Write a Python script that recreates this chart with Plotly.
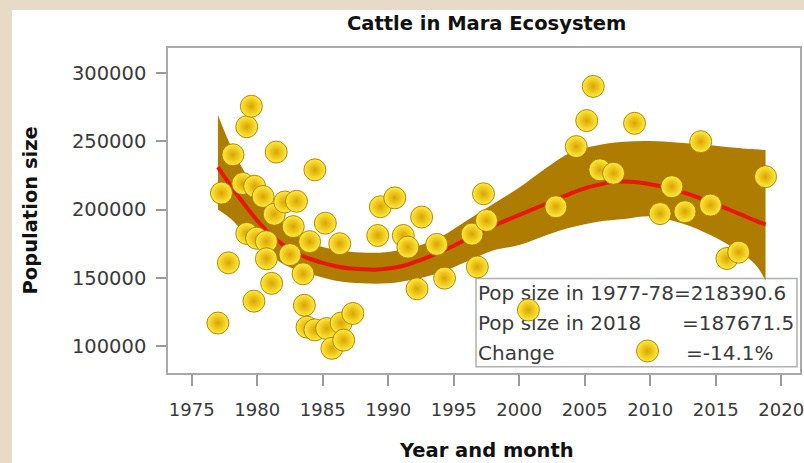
import plotly.graph_objects as go

# ---------------- data ----------------
years = [1977.0, 1977.27, 1977.8, 1978.15, 1978.9, 1979.2, 1979.2, 1979.55, 1979.75,
         1979.8, 1979.95, 1980.45, 1980.7, 1980.7, 1981.1, 1981.45, 1981.3, 1982.1,
         1982.5, 1982.75, 1983.0, 1983.5, 1983.6, 1983.8, 1984.0, 1984.4, 1984.4,
         1985.2, 1985.3, 1985.7, 1986.3, 1986.4, 1986.6, 1987.3, 1989.2, 1989.4,
         1990.5, 1991.15, 1991.5, 1992.2, 1992.55, 1993.7, 1994.3, 1996.4, 1996.8,
         1997.27, 1997.5, 2000.7, 2002.8, 2004.35, 2005.15, 2005.65, 2006.15, 2007.2,
         2008.8, 2010.75, 2011.65, 2012.65, 2013.85, 2014.6, 2015.85, 2016.75, 2018.8]
population = [117000, 212000, 161000, 240000, 219000, 260500, 182500, 275500, 133000,
              217000, 179000, 209500, 176500, 164000, 146000, 242000, 196500, 205500,
              167000, 187500, 206000, 153000, 130000, 114000, 176500, 229000, 112000,
              190000, 113000, 98500, 175000, 117000, 104500, 124000, 181000, 202000,
              208500, 181000, 172500, 142000, 194500, 174500, 149800, 182000, 158000,
              211500, 192000, 126500, 202000, 246000, 265000, 290000, 229000, 226500,
              263000, 197000, 216700, 198400, 249600, 203200, 164200, 168800, 224000]

# fitted curve (red)
fit_years = [1977.0, 1978.0, 1979.0, 1980.0, 1981.0, 1982.0, 1983.0, 1984.0, 1985.0,
             1986.0, 1987.0, 1988.0, 1989.0, 1990.0, 1991.0, 1992.0, 1993.0, 1994.0,
             1995.0, 1996.0, 1997.0, 1998.0, 1999.0, 2000.0, 2001.0, 2002.0, 2003.0,
             2004.0, 2005.0, 2006.0, 2007.0, 2008.0, 2009.0, 2010.0, 2011.0, 2012.0,
             2013.0, 2014.0, 2015.0, 2016.0, 2017.0, 2018.0, 2018.8]
fit_values = [231000, 217000, 204000, 192000, 182000, 174000, 168000, 164000, 161000,
              158500, 157000, 156300, 156000, 156800, 158500, 161500, 165000, 169000,
              173500, 178500, 183500, 188000, 192000, 196000, 200000, 204000, 208000,
              212000, 215500, 218000, 220000, 220500, 220000, 218500, 216500, 214000,
              211000, 207500, 204000, 200000, 196000, 192000, 189000]

# confidence band
band_years = [1977.0, 1978.0, 1979.0, 1980.0, 1982.0, 1984.0, 1986.0, 1988.0, 1990.0,
              1992.0, 1994.0, 1996.0, 1998.0, 2000.0, 2002.0, 2004.0, 2006.0, 2008.0,
              2010.0, 2012.0, 2014.0, 2016.0, 2018.0, 2018.8]
band_upper = [269000, 246000, 228000, 212000, 190000, 176000, 170500, 168500, 169000,
              172500, 180000, 192000, 204000, 216000, 230000, 242000, 247000, 249500,
              250000, 249000, 247500, 245500, 244000, 243500]
band_lower = [200000, 193000, 183000, 175000, 160000, 153000, 148000, 146000, 146000,
              149000, 154000, 162000, 170000, 174000, 181000, 187000, 191000, 193000,
              195000, 191000, 184000, 174000, 160000, 148000]

x_ticks = [1975, 1980, 1985, 1990, 1995, 2000, 2005, 2010, 2015, 2020]
y_ticks = [100000, 150000, 200000, 250000, 300000]

legend_lines = ["Pop size in 1977-78=218390.6", "Pop size in 2018", "Change"]
legend_values = ["=187671.5", "=-14.1%"]

title_text = "Cattle in Mara Ecosystem"
x_title = "Year and month"
y_title = "Population size"

# ---------------- styling ----------------
FONT = "DejaVu Sans"
W, H = 804, 463
L, R, T, B = 168, 4, 48, 90
PW, PH = W - L - R, H - T - B

BAND = "#ad7c00"
RED = "#e8170c"
BALL = "#ffec3c"
BALL_EDGE = "#dba400"
BALL_LINE = "rgba(165,115,0,0.85)"
TXT = "#3a3a3a"

fig = go.Figure()

# ---- legend-like box (on hidden pixel axes x/y, drawn beneath the data) ----
fig.add_trace(go.Scatter(
    x=[478, 478, 478], y=[295, 325, 355], mode="text", text=legend_lines,
    textposition="middle right", textfont=dict(family=FONT, size=20, color=TXT),
    hoverinfo="skip", xaxis="x", yaxis="y"))
fig.add_trace(go.Scatter(
    x=[682, 686], y=[325, 355], mode="text", text=legend_values,
    textposition="middle right", textfont=dict(family=FONT, size=20, color=TXT),
    hoverinfo="skip", xaxis="x", yaxis="y"))
fig.add_trace(go.Scatter(
    x=[647.5], y=[351], mode="markers",
    marker=dict(size=22, color=BALL, gradient=dict(type="radial", color=BALL_EDGE),
                line=dict(color=BALL_LINE, width=1)),
    hoverinfo="skip", xaxis="x", yaxis="y"))

# ---- data on overlay axes x2/y2 ----
fig.add_trace(go.Scatter(
    x=band_years, y=band_lower, mode="lines", line=dict(width=0, color=BAND, shape="spline"),
    hoverinfo="skip", xaxis="x2", yaxis="y2"))
fig.add_trace(go.Scatter(
    x=band_years, y=band_upper, mode="lines", line=dict(width=0, color=BAND, shape="spline"),
    fill="tonexty", fillcolor=BAND, hoverinfo="skip", xaxis="x2", yaxis="y2"))
fig.add_trace(go.Scatter(
    x=fit_years, y=fit_values, mode="lines", line=dict(width=4, color=RED, shape="spline"),
    hoverinfo="skip", xaxis="x2", yaxis="y2"))
fig.add_trace(go.Scatter(
    x=years, y=population, mode="markers",
    marker=dict(size=22, color=BALL, gradient=dict(type="radial", color=BALL_EDGE),
                line=dict(color=BALL_LINE, width=1)),
    xaxis="x2", yaxis="y2"))

fig.update_layout(
    width=W, height=H,
    margin=dict(l=L, r=R, t=T, b=B, autoexpand=False),
    paper_bgcolor="#e7dac6",
    plot_bgcolor="white",
    showlegend=False,
    xaxis=dict(range=[L, W - R], visible=False, fixedrange=True),
    yaxis=dict(range=[H - B, T], visible=False, fixedrange=True),
    xaxis2=dict(overlaying="x", anchor="y2", side="bottom",
                range=[1973.19, 2021.43], tickmode="array", tickvals=x_ticks,
                ticktext=[str(v) for v in x_ticks],
                ticks="outside", ticklen=11, tickwidth=1.5, tickcolor="#9a9a9a",
                showgrid=False, zeroline=False, showline=True, mirror=True,
                linecolor="#a8a8a8", linewidth=1.5,
                tickfont=dict(family=FONT, size=18, color=TXT),
                ticklabelstandoff=9, ticklabeloverflow="allow"),
    yaxis2=dict(overlaying="y", anchor="x2", side="left",
                range=[80480, 318060], tickmode="array", tickvals=y_ticks,
                ticktext=[str(v) for v in y_ticks],
                ticks="outside", ticklen=10, tickwidth=1.5, tickcolor="#9a9a9a",
                showgrid=False, zeroline=False, showline=True, mirror=True,
                linecolor="#a8a8a8", linewidth=1.5,
                tickfont=dict(family=FONT, size=19.5, color=TXT),
                ticklabelstandoff=6),
    shapes=[
        # white panel over the parchment background
        dict(type="rect", xref="paper", yref="paper", layer="below",
             x0=(12 - L) / PW, x1=(W - L) / PW, y0=-B / PH, y1=(H - B - 10) / PH,
             fillcolor="white", line=dict(width=0)),
        # legend box
        dict(type="rect", xref="x", yref="y", layer="below",
             x0=476, x1=797, y0=278.5, y1=366.7,
             fillcolor="white", line=dict(color="#b0b0b0", width=1.5)),
    ],
    annotations=[
        dict(text=f"<b>{title_text}</b>", xref="paper", yref="paper",
             x=(486 - L) / PW, y=(H - B - 24) / PH, xanchor="center", yanchor="middle",
             showarrow=False, font=dict(family=FONT, size=19.5, color="#111")),
        dict(text=f"<b>{x_title}</b>", xref="paper", yref="paper",
             x=(486 - L) / PW, y=(H - B - 450) / PH, xanchor="center", yanchor="middle",
             showarrow=False, font=dict(family=FONT, size=19.5, color="#111")),
        dict(text=f"<b>{y_title}</b>", xref="paper", yref="paper",
             x=(30 - L) / PW, y=(H - B - 210.5) / PH, xanchor="center", yanchor="middle",
             textangle=-90, showarrow=False, font=dict(family=FONT, size=19.5, color="#111")),
    ],
)

fig.write_html("out.html", config={"displayModeBar": False},
               post_script="document.body.style.margin='0';document.body.style.overflow='hidden';")
